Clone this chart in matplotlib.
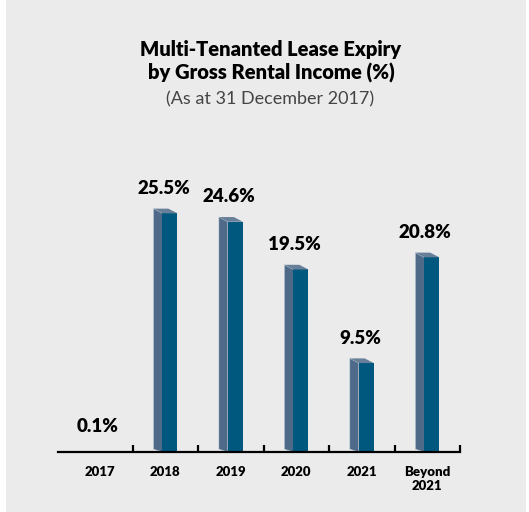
import numpy as np
import matplotlib.pyplot as plt
from matplotlib.patches import Polygon, Rectangle

categories = ['2017', '2018', '2019', '2020', '2021', 'Beyond\n2021']
values = [0.1, 25.5, 24.6, 19.5, 9.5, 20.8]
value_labels = ['0.1%', '25.5%', '24.6%', '19.5%', '9.5%', '20.8%']

front_col = '#00587f'
side_col = '#4e6a88'
top_col = '#687f99'
bg_col = '#ebebeb'

fig = plt.figure(figsize=(5.29, 5.12), dpi=100)
fig.patch.set_facecolor('white')
# grey panel behind everything
fig.patches.append(Rectangle((6 / 529, 0), 520 / 529, 1, transform=fig.transFigure,
                             facecolor=bg_col, edgecolor='none', zorder=-1))

ax = fig.add_axes([58 / 529, 60 / 512, 402 / 529, 322 / 512])
ax.set_zorder(1)
ax.set_facecolor('none')

x = np.arange(len(categories))
side_w = 0.137      # width of shaded side face, in category units
front_w = 0.229     # width of front face
depth_y = 0.5       # upward shift of the back edge, in %
front_left = x - (side_w + front_w) / 2 + side_w

ax.bar(front_left, values, width=front_w, align='edge', color=front_col,
       edgecolor='none', zorder=3)

for fl, v in zip(front_left, values):
    if v < 1:
        continue
    fr = fl + front_w
    side = Polygon([(fl, 0), (fl, v), (fl - side_w, v + depth_y), (fl - side_w, depth_y * 0.6)],
                   closed=True, facecolor=side_col, edgecolor='#c9d3dc', linewidth=0.4, zorder=2)
    top = Polygon([(fl, v), (fr, v), (fr - side_w, v + depth_y), (fl - side_w, v + depth_y)],
                  closed=True, facecolor=top_col, edgecolor='none', zorder=4)
    ax.add_patch(side)
    ax.add_patch(top)

for xi, v, lab in zip(x, values, value_labels):
    ax.annotate(lab, (xi - 0.03, v), xytext=(0, 14), textcoords='offset points',
                ha='center', va='baseline', fontsize=13.5, fontweight='heavy',
                family='Lato', color='black')

ax.set_xlim(-0.64, 5.5)
ax.set_ylim(0, 34.4)
ax.set_xticks(x)
ax.set_xticklabels(categories, fontsize=9.5, fontweight='heavy', family='Lato',
                   linespacing=1.25)
ax.tick_params(axis='x', which='major', length=0, pad=10)
ax.set_yticks([])
# separators between categories, standing up from the baseline
ax.vlines(np.arange(0.5, 6, 1), 0, 0.8, color='black', linewidth=1.6,
          zorder=5, clip_on=False)
for s in ['top', 'right', 'left']:
    ax.spines[s].set_visible(False)
ax.spines['bottom'].set_linewidth(1.6)
ax.spines['bottom'].set_zorder(5)

fig.text(271 / 529, 1 - 56 / 512, 'Multi-Tenanted Lease Expiry', ha='center',
         va='baseline', fontsize=14.5, fontweight='heavy', family='Lato')
fig.text(271 / 529, 1 - 80 / 512, 'by Gross Rental Income (%)', ha='center',
         va='baseline', fontsize=14.5, fontweight='heavy', family='Lato')
fig.text(270 / 529, 1 - 104 / 512, '(As at 31 December 2017)', ha='center',
         va='baseline', fontsize=13, fontweight='normal', family='Lato', color='#444444')

fig.savefig('out.png', dpi=100, facecolor=fig.get_facecolor())
